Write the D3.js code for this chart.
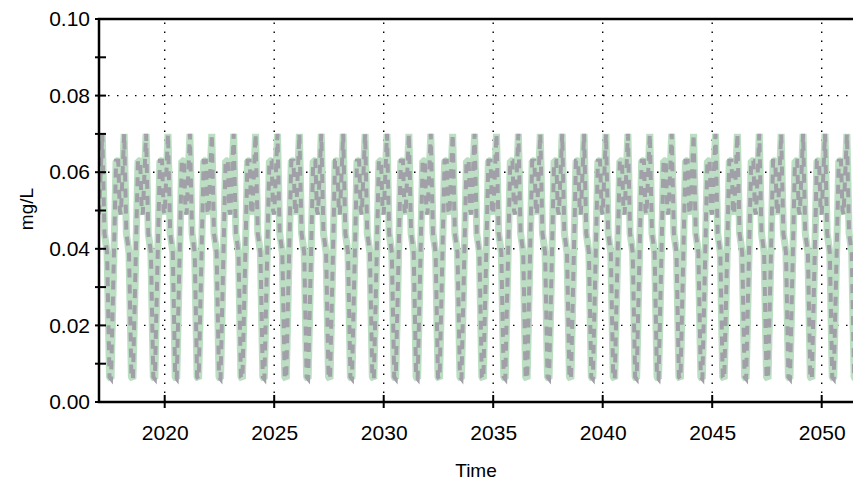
<!DOCTYPE html>
<html>
<head>
<meta charset="utf-8">
<script src="https://cdn.jsdelivr.net/npm/d3@7"></script>
<style>
  body { margin: 0; background: #fff; }
  svg { display: block; font-family: "Liberation Sans", Arial, sans-serif; }
</style>
</head>
<body>
<div id="chart"></div>
<script>
// one seasonal cycle (fraction of year, mg/L)
var cycleT   = [0.00, 0.15, 0.25, 0.30, 0.37, 0.48, 0.55, 0.78, 0.88, 0.95];
var cycleVal = [0.049, 0.070, 0.044, 0.042, 0.039, 0.0065, 0.0060, 0.063, 0.063, 0.050];
// the cycle repeats unchanged every simulated year
var years = d3.range(2017, 2053);
var yTicks = [0, 0.02, 0.04, 0.06, 0.08, 0.10];
var yMinor = [0.01, 0.03, 0.05, 0.07, 0.09];
var xTicks = [2020, 2025, 2030, 2035, 2040, 2045, 2050];

var w = 853, h = 484;
var margin = {top: 19, left: 99, bottom: 82};

var x = d3.scaleLinear()
  .domain([2017, 2052])
  .range([margin.left, margin.left + 35 * 21.9]);
var y = d3.scaleLinear()
  .domain([0, 0.1])
  .range([h - margin.bottom, margin.top]);

// build the series from the cycle table
var series = [];
years.forEach(function(yr) {
  cycleT.forEach(function(t, i) {
    series.push({t: yr + t, v: cycleVal[i]});
  });
});

var svg = d3.select("#chart")
  .append("svg")
  .attr("width", w)
  .attr("height", h);

svg.append("clipPath")
  .attr("id", "plotclip")
  .append("rect")
  .attr("x", x.range()[0])
  .attr("y", y.range()[1])
  .attr("width", x.range()[1] - x.range()[0])
  .attr("height", y.range()[0] - y.range()[1]);

// dotted grid
var grid = svg.append("g").attr("class", "grid");
grid.selectAll("line.gx")
  .data(xTicks)
  .enter().append("line")
  .attr("x1", function(d) { return x(d); })
  .attr("x2", function(d) { return x(d); })
  .attr("y1", y(0))
  .attr("y2", y(0.1));
grid.selectAll("line.gy")
  .data(yTicks.slice(1, -1))
  .enter().append("line")
  .attr("x1", x.range()[0])
  .attr("x2", x.range()[1])
  .attr("y1", function(d) { return y(d); })
  .attr("y2", function(d) { return y(d); });
grid.selectAll("line")
  .attr("stroke", "#000")
  .attr("stroke-width", 1.4)
  .attr("stroke-dasharray", "1.5,7.5");

var line = d3.line()
  .x(function(d) { return x(d.t); })
  .y(function(d) { return y(d.v); });

var plot = svg.append("g").attr("clip-path", "url(#plotclip)");
plot.append("path")
  .datum(series)
  .attr("d", line)
  .attr("fill", "none")
  .attr("stroke", "#bcdfc3")
  .attr("stroke-width", 7)
  .attr("stroke-linejoin", "bevel");
plot.append("path")
  .datum(series)
  .attr("d", line)
  .attr("fill", "none")
  .attr("stroke", "#a19fa7")
  .attr("stroke-width", 4)
  .attr("stroke-dasharray", "9,7");

// axes
var yAxis = d3.axisLeft(y)
  .tickValues(yTicks)
  .tickSize(0)
  .tickPadding(9)
  .tickFormat(d3.format(".2f"));
var gy = svg.append("g")
  .attr("transform", "translate(" + x.range()[0] + ",0)")
  .call(yAxis);

var xAxis = d3.axisBottom(x)
  .tickValues(xTicks)
  .tickSize(0)
  .tickPadding(23)
  .tickFormat(d3.format("d"));
var gx = svg.append("g")
  .attr("transform", "translate(0," + y(0) + ")")
  .call(xAxis);

[gx, gy].forEach(function(g) {
  g.select(".domain").remove();
  g.selectAll("text")
    .attr("fill", "#000")
    .style("font-size", "21px")
    .style("font-family", "Liberation Sans, Arial, sans-serif");
});

// ticks crossing the frame
svg.append("g").selectAll("line")
  .data(yTicks.concat(yMinor))
  .enter().append("line")
  .attr("x1", x.range()[0] - 4)
  .attr("x2", x.range()[0] + 7)
  .attr("y1", function(d) { return y(d); })
  .attr("y2", function(d) { return y(d); })
  .attr("stroke", "#000")
  .attr("stroke-width", 2);
svg.append("g").selectAll("line")
  .data(xTicks)
  .enter().append("line")
  .attr("x1", function(d) { return x(d); })
  .attr("x2", function(d) { return x(d); })
  .attr("y1", y(0) - 7)
  .attr("y2", y(0) + 6)
  .attr("stroke", "#000")
  .attr("stroke-width", 2);

// frame: left, bottom, top
svg.append("path")
  .attr("d", "M" + x.range()[1] + "," + y(0.1) + "H" + x.range()[0] + "V" + y(0) + "H" + x.range()[1])
  .attr("fill", "none")
  .attr("stroke", "#000")
  .attr("stroke-width", 2.5);

svg.append("text")
  .attr("x", 476)
  .attr("y", 477)
  .attr("text-anchor", "middle")
  .style("font-size", "19px")
  .text("Time");

svg.append("text")
  .attr("transform", "translate(33,209)rotate(-90)")
  .attr("text-anchor", "middle")
  .style("font-size", "19px")
  .text("mg/L");
</script>
</body>
</html>
